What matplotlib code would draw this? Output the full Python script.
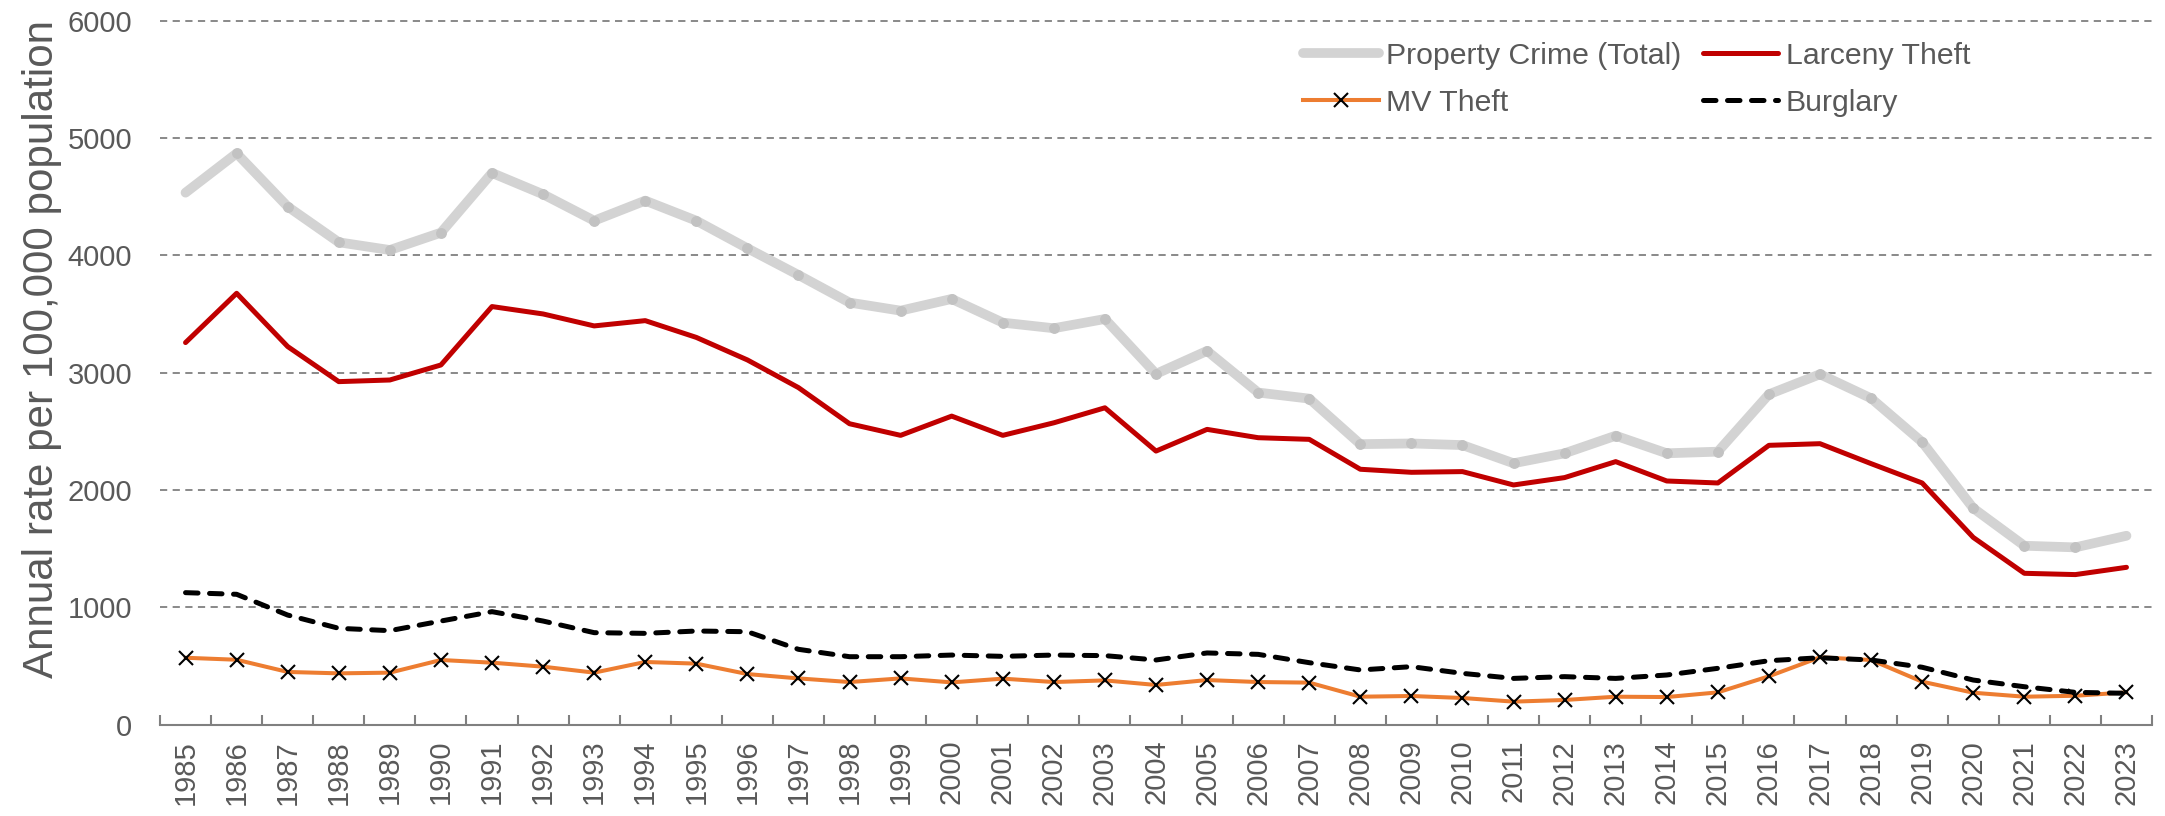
import numpy as np
import matplotlib
matplotlib.use("Agg")
import matplotlib.pyplot as plt
from matplotlib.lines import Line2D

plt.rcParams['font.family'] = ['Liberation Sans', 'DejaVu Sans']

# Annual rates per 100,000 population, 1985-2023
years = list(range(1985, 2024))

property_total = [4534, 4869, 4415, 4111, 4045, 4193, 4702, 4520, 4295, 4466,
                  4295, 4060, 3832, 3597, 3528, 3628, 3426, 3378, 3457, 2989,
                  3185, 2830, 2778, 2390, 2396, 2382, 2227, 2312, 2462, 2312,
                  2326, 2815, 2986, 2781, 2408, 1844, 1524, 1510, 1609]

larceny = [3256, 3676, 3222, 2923, 2937, 3065, 3563, 3500, 3398, 3443,
           3300, 3108, 2872, 2564, 2465, 2629, 2465, 2572, 2700, 2331,
           2516, 2445, 2431, 2176, 2150, 2156, 2042, 2105, 2241, 2076,
           2059, 2380, 2394, 2224, 2059, 1595, 1289, 1278, 1340]

mv_theft = [569, 552, 448, 436, 442, 550, 527, 493, 442, 533,
            519, 430, 393, 362, 393, 359, 391, 362, 376, 337,
            379, 362, 357, 237, 243, 226, 195, 209, 237, 234,
            274, 411, 573, 550, 365, 271, 237, 245, 274]

burglary = [1124, 1110, 933, 820, 800, 882, 962, 882, 783, 777,
            797, 791, 641, 578, 578, 592, 581, 592, 587, 550,
            610, 598, 527, 465, 493, 436, 393, 408, 393, 422,
            479, 544, 569, 550, 488, 379, 322, 274, 266]

y_ticks = [0, 1000, 2000, 3000, 4000, 5000, 6000]

TXT = '#595959'
AXC = '#808080'

fig = plt.figure(figsize=(21.65, 8.16), dpi=100)
ax = fig.add_axes([160 / 2165, 1 - 724.5 / 816, (2152 - 160) / 2165, (724.5 - 20.7) / 816])

x = np.arange(len(years))

# dashed horizontal gridlines
for v in y_ticks[1:]:
    ax.axhline(v, color=AXC, lw=1.3, ls=(0, (4, 3)), zorder=0, clip_on=False)

ax.plot(x, property_total, color='#D3D3D3', lw=7, solid_capstyle='round',
        solid_joinstyle='round', zorder=1)
ax.plot(x, property_total, ls='none', marker='o', ms=6.8, color='#C2C2C2',
        markevery=list(range(1, len(years) - 1)), zorder=1.1)
ax.plot(x, larceny, color='#C00000', lw=3.6, solid_capstyle='round',
        solid_joinstyle='round', zorder=2)
ax.plot(x, mv_theft, color='#ED7D31', lw=2.9, solid_capstyle='round', zorder=2.5)
ax.plot(x, burglary, color='black', lw=3.6, ls=(0, (2.5, 2.3)),
        dash_capstyle='round', zorder=3)
ax.plot(x, mv_theft, ls='none', marker='x', ms=10, mew=1.5, color='black', zorder=4)

ax.set_xlim(-0.5, len(years) - 0.5)
ax.set_ylim(0, 6000)

for s in ['top', 'right', 'left']:
    ax.spines[s].set_visible(False)
ax.spines['bottom'].set_color(AXC)
ax.spines['bottom'].set_linewidth(1.5)

ax.set_yticks(y_ticks)
ax.set_yticklabels([str(v) for v in y_ticks])
ax.tick_params(axis='y', length=0, pad=20, labelsize=21, labelcolor=TXT)

ax.set_xticks(np.arange(-0.5, len(years)), labels=[])
ax.tick_params(axis='x', which='major', direction='in', length=7, width=1.5, color=AXC)
ax.set_xticks(x, labels=[str(y) for y in years], minor=True)
ax.tick_params(axis='x', which='minor', length=0, pad=11, labelsize=21,
               labelcolor=TXT, labelrotation=90)

fig.text(42 / 2165, 1 - 349 / 816, 'Annual rate per 100,000 population',
         rotation=90, ha='center', va='center', fontsize=30.3, color=TXT)

handles = [
    Line2D([], [], color='#D3D3D3', lw=7, solid_capstyle='round'),
    Line2D([], [], color='#ED7D31', lw=2.9, marker='x', ms=10, mew=1.5, mec='black'),
    Line2D([], [], color='#C00000', lw=3.6, solid_capstyle='round'),
    Line2D([], [], color='black', lw=3.6, ls=(0, (2.5, 2.3)), dash_capstyle='round'),
]
labels = ['Property Crime (Total)', 'MV Theft', 'Larceny Theft', 'Burglary']
leg = fig.legend(handles, labels, ncol=2, loc='upper left',
                 bbox_to_anchor=(1303 / 2165, 1 - 42 / 816), frameon=False,
                 fontsize=21.8, handlelength=2.5, handletextpad=0.25,
                 columnspacing=0.7, labelspacing=0.62, borderpad=0, borderaxespad=0)
for t in leg.get_texts():
    t.set_color(TXT)

fig.savefig('out.png', dpi=100)
